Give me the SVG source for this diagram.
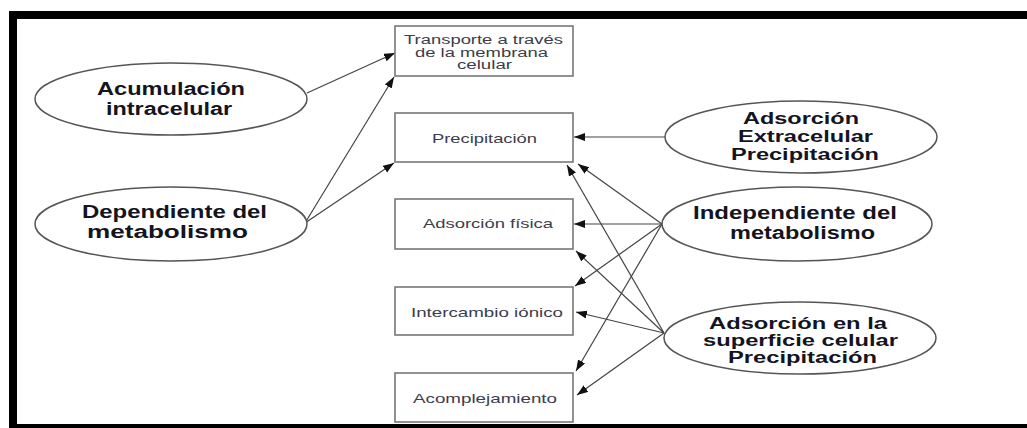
<svg xmlns="http://www.w3.org/2000/svg" width="1027" height="428" viewBox="0 0 1027 428">
  <style>
    .frame { fill: #000; }
    .box { fill: #fff; stroke: #777; stroke-width: 1.6; }
    .oval { fill: #fff; stroke: #555; stroke-width: 1.5; }
    .btxt { font-family: "Liberation Sans", Arial, sans-serif; font-size: 13px; fill: #3c3c4c; text-anchor: middle; }
    .btxt.tight { font-size: 12px; }
    .otxt { font-family: "Liberation Sans", Arial, sans-serif; font-size: 18px; font-weight: bold; fill: #14141e; text-anchor: middle; }
    .otxt.tight { font-size: 16px; }
    .link { fill: none; stroke: #444; stroke-width: 1.2; marker-end: url(#arrow); }
  </style>
  <defs>
    <marker id="arrow" markerUnits="userSpaceOnUse" markerWidth="12" markerHeight="9" refX="11" refY="4" orient="auto">
      <path d="M0,0 L11,4 L0,8 z" fill="#111"/>
    </marker>
  </defs>

  <rect width="1027" height="428" fill="#fff"/>
  <!-- outer frame: top, left and bottom bars -->
  <rect class="frame" x="9" y="11" width="1018" height="8"/>
  <rect class="frame" x="9" y="11" width="8" height="417"/>
  <rect class="frame" x="9" y="424" width="1018" height="4"/>

  <g id="connectors">
    <line class="link" x1="307" y1="93" x2="395" y2="53"/>
    <line class="link" x1="305" y1="223" x2="394" y2="77"/>
    <line class="link" x1="305" y1="223" x2="394" y2="163"/>
    <line class="link" x1="665" y1="137" x2="574" y2="137"/>
    <line class="link" x1="662" y1="224" x2="578" y2="164"/>
    <line class="link" x1="662" y1="224" x2="574" y2="224"/>
    <line class="link" x1="662" y1="224" x2="575" y2="286"/>
    <line class="link" x1="662" y1="224" x2="576" y2="371"/>
    <line class="link" x1="664" y1="333" x2="567" y2="165"/>
    <line class="link" x1="664" y1="333" x2="576" y2="251"/>
    <line class="link" x1="664" y1="333" x2="576" y2="312"/>
    <line class="link" x1="664" y1="333" x2="577" y2="395"/>
  </g>

  <g id="transporte">
    <rect class="box" x="395" y="26" width="178" height="50"/>
    <text class="btxt tight" x="483.5" y="44" textLength="159" lengthAdjust="spacingAndGlyphs">Transporte a través</text>
    <text class="btxt tight" x="481.5" y="57" textLength="133" lengthAdjust="spacingAndGlyphs">de la membrana</text>
    <text class="btxt tight" x="484.5" y="69" textLength="55" lengthAdjust="spacingAndGlyphs">celular</text>
  </g>
  <g id="precipitacion">
    <rect class="box" x="395" y="113" width="178" height="49"/>
    <text class="btxt" x="484.5" y="143" textLength="105" lengthAdjust="spacingAndGlyphs">Precipitación</text>
  </g>
  <g id="adsorcion-fisica">
    <rect class="box" x="395" y="199" width="178" height="50"/>
    <text class="btxt" x="488" y="228" textLength="130" lengthAdjust="spacingAndGlyphs">Adsorción física</text>
  </g>
  <g id="intercambio-ionico">
    <rect class="box" x="395" y="287" width="178" height="48"/>
    <text class="btxt" x="487" y="317" textLength="152" lengthAdjust="spacingAndGlyphs">Intercambio iónico</text>
  </g>
  <g id="acomplejamiento">
    <rect class="box" x="395" y="373" width="178" height="49"/>
    <text class="btxt" x="485" y="403" textLength="144" lengthAdjust="spacingAndGlyphs">Acomplejamiento</text>
  </g>

  <g id="acumulacion">
    <ellipse class="oval" cx="171" cy="99" rx="136" ry="36"/>
    <text class="otxt" x="171" y="95" textLength="148" lengthAdjust="spacingAndGlyphs">Acumulación</text>
    <text class="otxt" x="169" y="115" textLength="126" lengthAdjust="spacingAndGlyphs">intracelular</text>
  </g>
  <g id="dependiente">
    <ellipse class="oval" cx="171" cy="224" rx="136" ry="37"/>
    <text class="otxt" x="174.5" y="218" textLength="185" lengthAdjust="spacingAndGlyphs">Dependiente del</text>
    <text class="otxt" x="167.5" y="238" textLength="161" lengthAdjust="spacingAndGlyphs">metabolismo</text>
  </g>
  <g id="adsorcion-extracelular">
    <ellipse class="oval" cx="801" cy="137" rx="136" ry="36"/>
    <text class="otxt tight" x="801" y="124" textLength="116" lengthAdjust="spacingAndGlyphs">Adsorción</text>
    <text class="otxt tight" x="805.5" y="142" textLength="135" lengthAdjust="spacingAndGlyphs">Extracelular</text>
    <text class="otxt tight" x="805" y="160" textLength="148" lengthAdjust="spacingAndGlyphs">Precipitación</text>
  </g>
  <g id="independiente">
    <ellipse class="oval" cx="797" cy="224" rx="135" ry="37"/>
    <text class="otxt" x="795" y="219" textLength="204" lengthAdjust="spacingAndGlyphs">Independiente del</text>
    <text class="otxt" x="802.5" y="239" textLength="145" lengthAdjust="spacingAndGlyphs">metabolismo</text>
  </g>
  <g id="adsorcion-superficie">
    <ellipse class="oval" cx="800" cy="338" rx="136" ry="36"/>
    <text class="otxt tight" x="798" y="329" textLength="178" lengthAdjust="spacingAndGlyphs">Adsorción en la</text>
    <text class="otxt tight" x="800.5" y="346" textLength="195" lengthAdjust="spacingAndGlyphs">superficie celular</text>
    <text class="otxt tight" x="802.5" y="363" textLength="149" lengthAdjust="spacingAndGlyphs">Precipitación</text>
  </g>
</svg>
